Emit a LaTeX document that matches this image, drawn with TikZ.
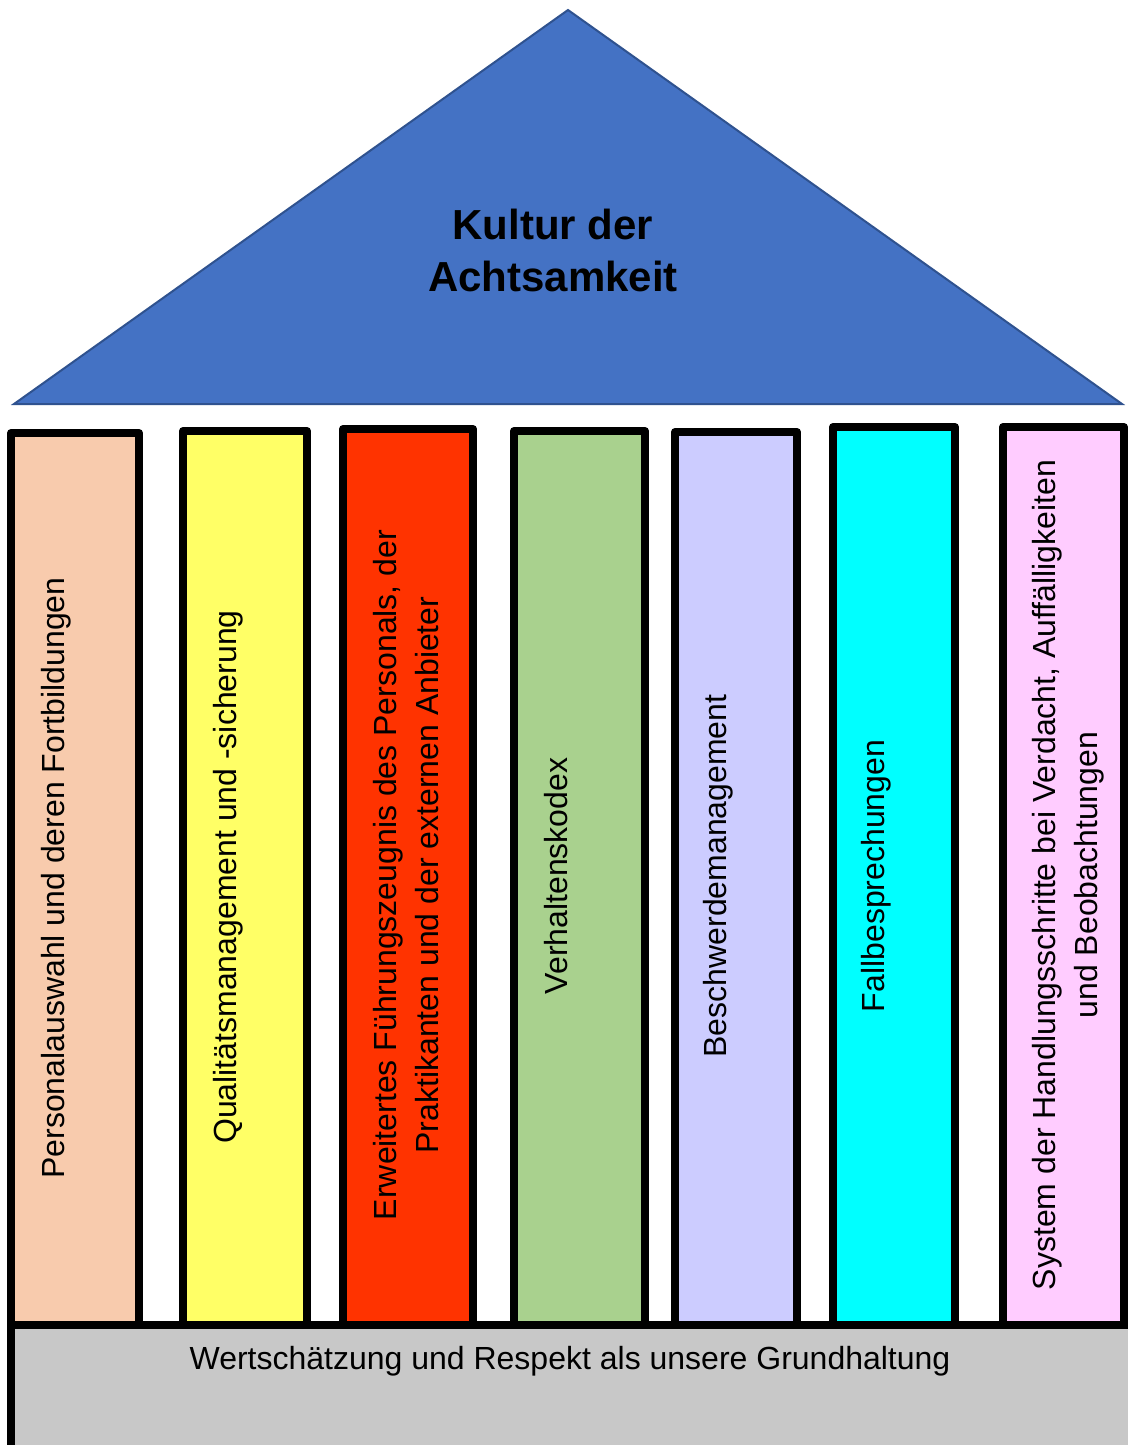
\documentclass[tikz,border=0pt]{standalone}
\usepackage{fontspec}
\setmainfont{Liberation Sans}
\definecolor{RoofBlue}{HTML}{4472C4}
\definecolor{RoofEdge}{HTML}{2F528F}
\definecolor{BaseGray}{HTML}{C8C8C8}
\definecolor{PillarPeach}{HTML}{F8CBAD}
\definecolor{PillarYellow}{HTML}{FFFF66}
\definecolor{PillarRed}{HTML}{FF3300}
\definecolor{PillarGreen}{HTML}{A9D18E}
\definecolor{PillarLilac}{HTML}{CCCCFF}
\definecolor{PillarCyan}{HTML}{00FFFF}
\definecolor{PillarPink}{HTML}{FFCCFF}

\begin{document}
\begin{tikzpicture}[x=0.5pt, y=-0.5pt,
    pillar/.style={draw=black, line width=4pt, line join=round},
    lbl/.style={rotate=90, align=center, font=\fontsize{16}{21}\selectfont}]
          \useasboundingbox (0,0) rectangle (1128,1445);
          \clip (0,0) rectangle (1128,1445);
          \fill[white] (0,0) rectangle (1128,1445);
          % roof
          \draw[line width=1pt, draw=RoofEdge, fill=RoofBlue] (568,10) -- (1122,404) -- (14,404) -- cycle;
          \node[font=\bfseries\fontsize{21}{26}\selectfont, align=center] (roof) at (553,250) {Kultur der\\Achtsamkeit};
          % pillars
          \draw[pillar, fill=PillarPeach] (11,433) rectangle (139,1325);
          \draw[pillar, fill=PillarYellow] (183,431) rectangle (307,1325);
          \draw[pillar, fill=PillarRed] (343,429) rectangle (473,1325);
          \draw[pillar, fill=PillarGreen] (514,431) rectangle (645,1325);
          \draw[pillar, fill=PillarLilac] (675,432) rectangle (797,1325);
          \draw[pillar, fill=PillarCyan] (833,427) rectangle (955,1325);
          \draw[pillar, fill=PillarPink] (1003,427) rectangle (1124,1325);
          \node[lbl] (personal) at (56,878) {Personalauswahl und deren Fortbildungen};
          \node[lbl] (qualitaet) at (228,877) {Qualitätsmanagement und -sicherung};
          \node[lbl] (zeugnis) at (406,875) {Erweitertes Führungszeugnis des Personals, der\\Praktikanten und der externen Anbieter};
          \node[lbl] (kodex) at (556,876) {Verhaltenskodex};
          \node[lbl] (beschwerde) at (718,876) {Beschwerdemanagement};
          \node[lbl] (fall) at (876,876) {Fallbesprechungen};
          \node[lbl] (handlung) at (1068,875) {System der Handlungsschritte bei Verdacht, Auffälligkeiten\\und Beobachtungen};
          % base
          \draw[line width=4pt, fill=BaseGray] (11,1325) rectangle (1160,1480);
          \node[font=\fontsize{16}{21}\selectfont] (grund) at (570,1361) {Wertschätzung und Respekt als unsere Grundhaltung};
        \end{tikzpicture}
\end{document}
